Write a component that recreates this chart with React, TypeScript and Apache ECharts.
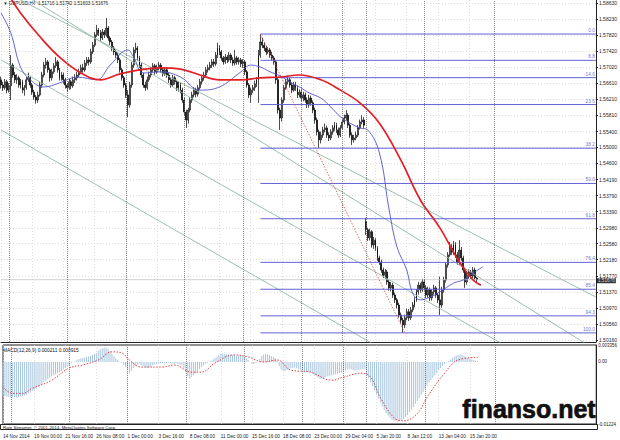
import React, { useEffect, useRef } from "react";
import * as echarts from "echarts";

// [open, high, low, close] per H4 bar
const candles: number[][] = [
  [1.5670,1.5678,1.5648,1.5657],[1.5657,1.5665,1.5642,1.5650],[1.5650,1.5672,1.5645,1.5665],[1.5665,1.5670,1.5636,1.5644],
  [1.5644,1.5662,1.5638,1.5655],[1.5655,1.5732,1.5619,1.5707],[1.5707,1.5712,1.5675,1.5682],[1.5682,1.5690,1.5662,1.5670],
  [1.5670,1.5684,1.5660,1.5675],[1.5675,1.5680,1.5650,1.5657],[1.5657,1.5672,1.5648,1.5665],[1.5665,1.5670,1.5636,1.5644],
  [1.5644,1.5657,1.5630,1.5650],[1.5650,1.5677,1.5645,1.5670],[1.5670,1.5688,1.5665,1.5675],[1.5675,1.5680,1.5650,1.5657],
  [1.5657,1.5662,1.5632,1.5639],[1.5639,1.5645,1.5620,1.5627],[1.5627,1.5632,1.5610,1.5619],[1.5619,1.5640,1.5612,1.5632],
  [1.5632,1.5665,1.5628,1.5657],[1.5657,1.5690,1.5650,1.5682],[1.5682,1.5715,1.5676,1.5707],[1.5707,1.5725,1.5698,1.5715],
  [1.5715,1.5720,1.5688,1.5695],[1.5695,1.5700,1.5665,1.5675],[1.5675,1.5698,1.5668,1.5690],[1.5690,1.5712,1.5685,1.5705],
  [1.5705,1.5727,1.5700,1.5715],[1.5715,1.5720,1.5688,1.5695],[1.5695,1.5700,1.5668,1.5675],[1.5675,1.5690,1.5668,1.5682],
  [1.5682,1.5688,1.5660,1.5670],[1.5670,1.5675,1.5648,1.5657],[1.5657,1.5662,1.5640,1.5650],[1.5650,1.5672,1.5645,1.5665],
  [1.5665,1.5670,1.5646,1.5655],[1.5655,1.5678,1.5650,1.5670],[1.5670,1.5684,1.5662,1.5675],[1.5675,1.5690,1.5668,1.5682],
  [1.5682,1.5698,1.5676,1.5690],[1.5690,1.5708,1.5684,1.5700],[1.5700,1.5710,1.5688,1.5695],[1.5695,1.5720,1.5690,1.5712],
  [1.5712,1.5727,1.5705,1.5720],[1.5720,1.5727,1.5706,1.5715],[1.5715,1.5748,1.5710,1.5740],[1.5740,1.5765,1.5735,1.5757],
  [1.5757,1.5790,1.5752,1.5783],[1.5783,1.5808,1.5778,1.5795],[1.5795,1.5800,1.5780,1.5788],[1.5788,1.5795,1.5768,1.5775],
  [1.5775,1.5798,1.5770,1.5790],[1.5790,1.5795,1.5775,1.5783],[1.5783,1.5825,1.5778,1.5800],[1.5800,1.5805,1.5768,1.5775],
  [1.5775,1.5780,1.5757,1.5765],[1.5765,1.5770,1.5742,1.5750],[1.5750,1.5755,1.5732,1.5740],[1.5740,1.5745,1.5725,1.5732],
  [1.5732,1.5737,1.5712,1.5720],[1.5720,1.5725,1.5688,1.5695],[1.5695,1.5700,1.5668,1.5675],[1.5675,1.5680,1.5650,1.5657],
  [1.5657,1.5662,1.5624,1.5632],[1.5632,1.5644,1.5576,1.5607],[1.5607,1.5665,1.5600,1.5657],[1.5657,1.5715,1.5650,1.5707],
  [1.5707,1.5752,1.5700,1.5745],[1.5745,1.5763,1.5737,1.5750],[1.5750,1.5755,1.5718,1.5725],[1.5725,1.5730,1.5700,1.5707],
  [1.5707,1.5712,1.5675,1.5682],[1.5682,1.5688,1.5650,1.5657],[1.5657,1.5665,1.5642,1.5650],[1.5650,1.5678,1.5645,1.5670],
  [1.5670,1.5690,1.5665,1.5682],[1.5682,1.5702,1.5676,1.5695],[1.5695,1.5712,1.5690,1.5705],[1.5705,1.5710,1.5683,1.5690],
  [1.5690,1.5708,1.5685,1.5700],[1.5700,1.5715,1.5694,1.5707],[1.5707,1.5712,1.5688,1.5695],[1.5695,1.5700,1.5678,1.5685],
  [1.5685,1.5702,1.5680,1.5695],[1.5695,1.5700,1.5675,1.5682],[1.5682,1.5688,1.5662,1.5670],[1.5670,1.5675,1.5650,1.5657],
  [1.5657,1.5682,1.5652,1.5675],[1.5675,1.5680,1.5658,1.5665],[1.5665,1.5670,1.5642,1.5650],[1.5650,1.5665,1.5640,1.5657],
  [1.5657,1.5662,1.5636,1.5644],[1.5644,1.5650,1.5612,1.5619],[1.5619,1.5625,1.5580,1.5589],[1.5589,1.5595,1.5549,1.5569],
  [1.5569,1.5600,1.5560,1.5594],[1.5594,1.5626,1.5588,1.5619],[1.5619,1.5640,1.5612,1.5632],[1.5632,1.5652,1.5626,1.5644],
  [1.5644,1.5650,1.5626,1.5634],[1.5634,1.5657,1.5628,1.5650],[1.5650,1.5672,1.5645,1.5665],[1.5665,1.5682,1.5658,1.5675],
  [1.5675,1.5690,1.5668,1.5682],[1.5682,1.5702,1.5676,1.5695],[1.5695,1.5708,1.5688,1.5700],[1.5700,1.5715,1.5694,1.5707],
  [1.5707,1.5722,1.5700,1.5715],[1.5715,1.5722,1.5702,1.5710],[1.5710,1.5740,1.5705,1.5732],[1.5732,1.5763,1.5725,1.5750],
  [1.5750,1.5757,1.5732,1.5740],[1.5740,1.5745,1.5718,1.5725],[1.5725,1.5730,1.5708,1.5715],[1.5715,1.5735,1.5710,1.5727],
  [1.5727,1.5732,1.5712,1.5720],[1.5720,1.5740,1.5715,1.5732],[1.5732,1.5737,1.5712,1.5720],[1.5720,1.5727,1.5705,1.5712],
  [1.5712,1.5745,1.5706,1.5725],[1.5725,1.5730,1.5708,1.5715],[1.5715,1.5727,1.5708,1.5720],[1.5720,1.5725,1.5702,1.5710],
  [1.5710,1.5722,1.5700,1.5715],[1.5715,1.5720,1.5682,1.5690],[1.5690,1.5695,1.5650,1.5657],[1.5657,1.5662,1.5624,1.5632],
  [1.5632,1.5650,1.5612,1.5644],[1.5644,1.5657,1.5636,1.5650],[1.5650,1.5668,1.5642,1.5660],[1.5660,1.5677,1.5652,1.5670],
  [1.5670,1.5745,1.5612,1.5732],[1.5732,1.5785,1.5725,1.5765],[1.5765,1.5775,1.5750,1.5757],[1.5757,1.5765,1.5742,1.5750],
  [1.5750,1.5755,1.5732,1.5740],[1.5740,1.5752,1.5735,1.5745],[1.5745,1.5750,1.5725,1.5732],[1.5732,1.5740,1.5718,1.5725],
  [1.5725,1.5730,1.5708,1.5715],[1.5715,1.5720,1.5660,1.5670],[1.5670,1.5675,1.5585,1.5594],[1.5594,1.5600,1.5544,1.5574],
  [1.5574,1.5626,1.5565,1.5619],[1.5619,1.5657,1.5612,1.5650],[1.5650,1.5672,1.5645,1.5665],[1.5665,1.5680,1.5658,1.5670],
  [1.5670,1.5675,1.5650,1.5657],[1.5657,1.5662,1.5636,1.5644],[1.5644,1.5665,1.5640,1.5657],[1.5657,1.5665,1.5642,1.5650],
  [1.5650,1.5655,1.5624,1.5632],[1.5632,1.5646,1.5626,1.5639],[1.5639,1.5645,1.5616,1.5624],[1.5624,1.5640,1.5616,1.5632],
  [1.5632,1.5638,1.5612,1.5619],[1.5619,1.5626,1.5599,1.5607],[1.5607,1.5632,1.5600,1.5624],[1.5624,1.5630,1.5605,1.5612],
  [1.5612,1.5618,1.5586,1.5594],[1.5594,1.5600,1.5560,1.5569],[1.5569,1.5575,1.5530,1.5539],[1.5539,1.5545,1.5499,1.5519],
  [1.5519,1.5540,1.5510,1.5531],[1.5531,1.5552,1.5524,1.5544],[1.5544,1.5560,1.5538,1.5549],[1.5549,1.5555,1.5524,1.5531],
  [1.5531,1.5538,1.5516,1.5524],[1.5524,1.5546,1.5518,1.5539],[1.5539,1.5556,1.5532,1.5549],[1.5549,1.5564,1.5542,1.5556],
  [1.5556,1.5562,1.5536,1.5544],[1.5544,1.5550,1.5524,1.5531],[1.5531,1.5556,1.5526,1.5549],[1.5549,1.5570,1.5545,1.5564],
  [1.5564,1.5582,1.5558,1.5574],[1.5574,1.5594,1.5568,1.5581],[1.5581,1.5586,1.5549,1.5556],[1.5556,1.5560,1.5524,1.5531],
  [1.5531,1.5538,1.5506,1.5519],[1.5519,1.5532,1.5512,1.5524],[1.5524,1.5540,1.5518,1.5531],[1.5531,1.5556,1.5526,1.5549],
  [1.5549,1.5570,1.5545,1.5564],[1.5564,1.5581,1.5558,1.5569],[1.5569,1.5576,1.5549,1.5556],[1.5313,1.5323,1.5280,1.5293],
  [1.5293,1.5298,1.5265,1.5273],[1.5273,1.5296,1.5266,1.5288],[1.5288,1.5292,1.5248,1.5255],[1.5255,1.5275,1.5245,1.5267],
  [1.5267,1.5272,1.5240,1.5247],[1.5247,1.5252,1.5215,1.5222],[1.5222,1.5228,1.5205,1.5212],[1.5212,1.5218,1.5185,1.5192],
  [1.5192,1.5198,1.5172,1.5179],[1.5179,1.5194,1.5170,1.5187],[1.5187,1.5192,1.5155,1.5162],[1.5162,1.5168,1.5140,1.5147],
  [1.5147,1.5162,1.5138,1.5154],[1.5154,1.5160,1.5122,1.5129],[1.5129,1.5135,1.5109,1.5117],[1.5117,1.5122,1.5095,1.5104],
  [1.5104,1.5110,1.5072,1.5079],[1.5079,1.5085,1.5058,1.5066],[1.5066,1.5072,1.5034,1.5054],[1.5054,1.5080,1.5046,1.5072],
  [1.5072,1.5095,1.5066,1.5087],[1.5087,1.5094,1.5064,1.5072],[1.5072,1.5099,1.5066,1.5092],[1.5092,1.5112,1.5086,1.5104],
  [1.5104,1.5124,1.5098,1.5117],[1.5117,1.5144,1.5112,1.5137],[1.5137,1.5162,1.5130,1.5154],[1.5154,1.5160,1.5135,1.5142],
  [1.5142,1.5170,1.5137,1.5162],[1.5162,1.5168,1.5140,1.5147],[1.5147,1.5154,1.5122,1.5129],[1.5129,1.5150,1.5122,1.5142],
  [1.5142,1.5148,1.5114,1.5122],[1.5122,1.5144,1.5115,1.5137],[1.5137,1.5155,1.5130,1.5147],[1.5147,1.5152,1.5122,1.5129],
  [1.5129,1.5135,1.5109,1.5117],[1.5117,1.5175,1.5079,1.5104],[1.5104,1.5150,1.5097,1.5142],[1.5142,1.5175,1.5135,1.5167],
  [1.5167,1.5212,1.5160,1.5205],[1.5205,1.5237,1.5198,1.5230],[1.5230,1.5262,1.5225,1.5247],[1.5247,1.5257,1.5230,1.5237],
  [1.5237,1.5265,1.5230,1.5255],[1.5255,1.5262,1.5222,1.5230],[1.5230,1.5237,1.5205,1.5212],[1.5212,1.5267,1.5205,1.5242],
  [1.5242,1.5250,1.5215,1.5222],[1.5222,1.5228,1.5185,1.5192],[1.5192,1.5198,1.5147,1.5162],[1.5162,1.5186,1.5155,1.5179],
  [1.5179,1.5194,1.5170,1.5187],[1.5187,1.5192,1.5170,1.5177],[1.5177,1.5199,1.5172,1.5192],[1.5192,1.5198,1.5165,1.5172],
  [1.51716,1.51742,1.51603,1.51676],
];

// Moving averages read at sparse bars: [bar index, price]
const redMA: number[][] = [
  [4,1.5883],[10,1.5838],[20,1.5778],[30,1.5727],[41,1.5687],[51,1.5670],[61,1.5685],[71,1.5695],[82,1.5700],
  [92,1.5697],[102,1.5682],[112,1.5670],[123,1.5670],[133,1.5675],[143,1.5677],[153,1.5682],[164,1.5670],
  [174,1.5644],[184,1.5612],[194,1.5561],[205,1.5468],[215,1.5368],[225,1.5298],[235,1.5212],[242,1.5167],[246,1.5154],
];
const blueMA: number[][] = [
  [0,1.5838],[5,1.5788],[10,1.5702],[15,1.5670],[22,1.5652],[30,1.5662],[39,1.5677],[49,1.5670],[56,1.5707],
  [65,1.5745],[68,1.5727],[73,1.5687],[82,1.5690],[92,1.5677],[102,1.5644],[112,1.5652],[123,1.5690],[128,1.5707],
  [133,1.5702],[138,1.5690],[143,1.5680],[148,1.5665],[153,1.5652],[158,1.5637],[164,1.5624],[169,1.5602],
  [174,1.5577],[179,1.5561],[184,1.5549],[188,1.5544],[194,1.5486],[199,1.5343],[203,1.5250],[208,1.5192],
  [211,1.5134],[215,1.5117],[220,1.5124],[225,1.5137],[232,1.5159],[237,1.5167],[242,1.5184],[247,1.5200],
];

// MACD(12,26,9) main values per bar (histogram) and dotted signal line
const macdMain: number[] = [
  -0.0066,-0.0067,-0.0068,-0.0069,-0.0070,-0.0070,-0.0070,-0.0070,-0.0069,-0.0068,-0.0067,-0.0066,-0.0065,
  -0.0062,-0.0060,-0.0057,-0.0055,-0.0052,-0.0049,-0.0046,-0.0043,-0.0040,-0.0037,-0.0034,-0.0031,-0.0028,-0.0026,-0.0024,-0.0022,-0.0020,-0.0018,
  -0.0015,-0.0012,-0.0009,-0.0006,-0.0003,
  0.0000,0.0002,0.0004,0.0006,0.0007,0.0008,0.0009,0.0010,0.0011,0.0012,0.0014,0.0016,0.0018,
  0.0022,0.0025,0.0027,0.0028,0.0028,0.0026,0.0022,
  0.0017,0.0012,0.0008,0.0004,0.0001,-0.0002,-0.0006,-0.0010,
  -0.0016,-0.0022,-0.0018,
  -0.0012,-0.0008,-0.0005,-0.0004,-0.0006,-0.0008,-0.0010,-0.0012,-0.0011,-0.0009,
  -0.0007,-0.0005,-0.0004,-0.0003,-0.0002,-0.0002,-0.0003,-0.0002,-0.0001,-0.0002,-0.0003,-0.0004,-0.0003,-0.0004,-0.0005,-0.0006,
  -0.0012,-0.0020,-0.0028,-0.0032,-0.0030,
  -0.0026,-0.0022,-0.0018,-0.0014,-0.0010,-0.0007,-0.0004,-0.0002,0.0000,0.0002,
  0.0005,0.0008,0.0011,0.0014,0.0016,0.0017,0.0017,0.0016,0.0015,0.0015,0.0014,0.0014,0.0013,0.0013,0.0012,0.0012,0.0010,0.0008,0.0004,0.0000,
  -0.0003,-0.0004,-0.0002,0.0000,0.0006,0.0012,0.0015,0.0016,
  0.0015,0.0014,0.0012,0.0010,0.0008,0.0002,-0.0008,-0.0015,
  -0.0018,-0.0018,-0.0016,-0.0014,-0.0012,-0.0012,-0.0011,-0.0012,-0.0014,-0.0016,
  -0.0017,-0.0018,-0.0019,-0.0020,-0.0020,
  -0.0022,-0.0025,-0.0028,-0.0031,-0.0033,-0.0033,-0.0032,-0.0030,
  -0.0028,-0.0027,-0.0026,-0.0025,-0.0024,-0.0023,-0.0022,-0.0021,-0.0019,-0.0017,
  -0.0015,-0.0014,-0.0015,-0.0016,-0.0017,-0.0017,-0.0016,-0.0015,-0.0014,-0.0014,
  -0.0025,-0.0032,-0.0040,-0.0048,-0.0056,-0.0064,-0.0072,-0.0080,
  -0.0088,-0.0095,-0.0101,-0.0106,-0.0110,-0.0114,-0.0116,-0.0117,
  -0.0118,-0.0117,-0.0115,-0.0112,-0.0108,-0.0104,-0.0099,
  -0.0094,-0.0089,-0.0083,-0.0077,-0.0071,-0.0065,-0.0059,-0.0053,
  -0.0047,-0.0041,-0.0036,-0.0031,-0.0026,-0.0021,-0.0016,-0.0012,
  -0.0008,-0.0004,-0.0001,0.0002,0.0005,0.0008,0.0011,0.0013,0.0014,0.0015,
  0.0014,0.0012,0.0010,0.0008,0.0007,0.0005,0.0004,0.0003,0.000211,
];
const macdSignal: number[][] = [
  [0,-0.0050],[5,-0.0062],[10,-0.0062],[15,-0.0052],[25,-0.0036],[34,-0.0012],[41,-0.0006],[49,0.0004],
  [56,0.0020],[61,0.0018],[65,0.0004],[71,-0.0010],[82,-0.0010],[88,-0.0006],[97,-0.0020],[102,-0.0020],
  [109,-0.0002],[119,0.0014],[126,0.0010],[134,0.0000],[141,0.0004],[148,-0.0016],[158,-0.0020],[169,-0.0036],
  [175,-0.0030],[184,-0.0022],[189,-0.0030],[194,-0.0070],[201,-0.0110],[206,-0.0116],[213,-0.0102],
  [218,-0.0070],[227,-0.0022],[234,0.0004],[244,0.000915],
];

// Fibonacci retracement (0.0 at the Dec high, 100.0 at the Jan low)
const fibHigh = 1.5785;
const fibLow = 1.5034;
const fibStartBar = 133;
const fibEndBar = 207;
const fibLevels = [0, 8.8, 14.6, 23.6, 38.2, 50, 61.8, 76.4, 85.4, 94.3, 100];
const fibLabels = ["0.0", "8.8", "14.6", "23.6", "38.2", "50.0", "61.8", "76.4", "85.4", "94.3", "100.0"];

// Parallel channel lines: [[startBar, price], [endBar, price]]
const channelLines: number[][][] = [
  [[0, 1.5896], [305, 1.5124]],
  [[0, 1.5921], [305, 1.4991]],
  [[0, 1.5720], [305, 1.4873]],
  [[0, 1.5544], [305, 1.4684]],
];

const periodSeparators = [4, 34, 64, 94, 124, 154, 175, 187, 217, 253];
const priceTickLabels = [
  "1.50160","1.50560","1.50970","1.51370","1.51770","1.52180","1.52580","1.52980","1.53390","1.53790","1.54190",
  "1.54600","1.55000","1.55400","1.55810","1.56210","1.56610","1.57020","1.57420","1.57820","1.58230","1.58630",
];
const timeLabelBars = [0, 16, 32, 48, 64, 80, 96, 112, 128, 144, 160, 176, 192, 208, 224, 240];
const timeLabelTexts = [
  "14 Nov 2014","19 Nov 00:00","21 Nov 16:00","26 Nov 08:00","1 Dec 00:00","3 Dec 16:00","8 Dec 08:00","11 Dec 00:00",
  "15 Dec 16:00","18 Dec 08:00","23 Dec 00:00","29 Dec 04:00","5 Jan 20:00","8 Jan 12:00","13 Jan 04:00","15 Jan 20:00",
];
const macdTickValues = [0.003356, 0, -0.01224];
const macdTickLabels = ["0.003356", "0.00", "-0.01224"];
const lastPrice = 1.51676;
const headerText = "▼ GBPUSD,H4  1.51716 1.51742 1.51603 1.51676";
const macdTitle = "MACD(12,26,9) 0.000211 0.000915";
const copyrightText = "Rate Streamer, © 2001-2014, MetaQuotes Software Corp.";
const watermark = "finanso.net";
const slotCount = 306;

const FONT = "'Liberation Sans', Arial, sans-serif";
const FIB_BLUE = "#6262d8";

export default function App() {
  const ref = useRef<HTMLDivElement>(null);
  useEffect(() => {
    if (!ref.current) return;
    document.body.style.margin = "0";
    const chart = echarts.init(ref.current, undefined, { renderer: "svg" });
    const cats = Array.from({ length: slotCount }, (_, i) => String(i));
    const labelSet = new Set(timeLabelBars);
    const showLabel = (idx: number) => labelSet.has(idx);
    const priceTickValues = priceTickLabels.map(Number);
    const fibPrices = fibLevels.map((l) => fibHigh - ((fibHigh - fibLow) * l) / 100);
    const gridSplit = { show: true, lineStyle: { color: "#d4d4d4", type: [1, 2] as any, width: 0.8 } };
    const nearest = (vals: number[], labels: string[], v: number) => {
      let best = 0;
      vals.forEach((t, k) => { if (Math.abs(t - v) < Math.abs(vals[best] - v)) best = k; });
      return labels[best];
    };
    const separatorLines = {
      silent: true, symbol: "none", animation: false,
      data: periodSeparators.map((b) => ({
        xAxis: b, lineStyle: { color: "#666", type: [1, 1], width: 0.8 }, label: { show: false },
      })),
    };

    const option: any = {
      animation: false,
      backgroundColor: "#ffffff",
      textStyle: { fontFamily: FONT },
      grid: [
        { left: 1, right: 22, top: 0, height: 342, show: false },
        { left: 1, right: 22, top: 345, height: 79, show: true, borderColor: "#222", borderWidth: 1, backgroundColor: "#fff" },
      ],
      xAxis: [
        {
          type: "category", gridIndex: 0, data: cats, boundaryGap: false,
          axisLine: { show: true, lineStyle: { color: "#222", width: 1 } },
          axisTick: { show: false }, axisLabel: { show: false },
          splitLine: { ...gridSplit, interval: (i: number) => showLabel(i) },
        },
        {
          type: "category", gridIndex: 1, data: cats, boundaryGap: false,
          axisLine: { show: false }, axisTick: { show: false },
          axisLabel: {
            show: true, interval: (i: number) => showLabel(i), align: "left", fontSize: 4.7, color: "#222", margin: 10,
            formatter: (v: string) => timeLabelTexts[timeLabelBars.indexOf(Number(v))] ?? "",
          },
          splitLine: { ...gridSplit, interval: (i: number) => showLabel(i) },
        },
      ],
      yAxis: [
        {
          type: "value", gridIndex: 0, position: "right", min: 1.50111, max: 1.58705,
          axisLine: { show: true, lineStyle: { color: "#222", width: 1 } },
          axisTick: { show: true, length: 2, customValues: priceTickValues, lineStyle: { color: "#222" } },
          axisLabel: {
            customValues: priceTickValues, fontSize: 5, color: "#222", margin: 3,
            formatter: (v: number) => nearest(priceTickValues, priceTickLabels, v),
          },
          splitLine: gridSplit,
        },
        {
          type: "value", gridIndex: 1, position: "right", min: -0.01224, max: 0.003356,
          axisLine: { show: true, lineStyle: { color: "#222" } },
          axisTick: { show: false, customValues: macdTickValues },
          axisLabel: {
            customValues: macdTickValues, fontSize: 4.5, color: "#222", margin: 2, padding: [3, 0, 0, 0],
            formatter: (v: number) => nearest(macdTickValues, macdTickLabels, v),
          },
          splitLine: { show: false },
        },
      ],
      series: [
        ...channelLines.map((seg) => ({
          type: "line", xAxisIndex: 0, yAxisIndex: 0, data: seg, showSymbol: false, silent: true, clip: true,
          lineStyle: { color: "#93b8a4", width: 0.9 },
        })),
        // bid (last price) line
        {
          type: "line", xAxisIndex: 0, yAxisIndex: 0, data: [[0, lastPrice], [slotCount - 1, lastPrice]],
          showSymbol: false, silent: true, lineStyle: { color: "#c4c4c4", width: 0.8 },
        },
        ...fibPrices.map((p) => ({
          type: "line", xAxisIndex: 0, yAxisIndex: 0, data: [[fibStartBar, p], [slotCount - 1, p]],
          showSymbol: false, silent: true, lineStyle: { color: FIB_BLUE, width: 1 },
        })),
        {
          type: "scatter", xAxisIndex: 0, yAxisIndex: 0, symbolSize: 0, silent: true,
          data: fibPrices.map((p, k) => ({ value: [slotCount - 1, p], name: fibLabels[k] })),
          label: {
            show: true, position: "insideBottomRight", distance: 1, color: "#4a4ac8", fontSize: 4.8,
            formatter: (prm: any) => prm.name,
          },
        },
        {
          type: "line", xAxisIndex: 0, yAxisIndex: 0, data: [[fibStartBar, fibHigh], [fibEndBar, fibLow]],
          showSymbol: false, silent: true, lineStyle: { color: "#d84848", width: 0.8, type: [1.5, 1.5] },
        },
        {
          type: "candlestick", xAxisIndex: 0, yAxisIndex: 0, barWidth: 1.4, silent: true,
          data: candles.map(([o, h, l, c]) => [o, c, l, h]),
          itemStyle: { color: "#ffffff", color0: "#000000", borderColor: "#000000", borderColor0: "#000000", borderWidth: 0.7 },
          markLine: separatorLines,
        },
        {
          type: "line", xAxisIndex: 0, yAxisIndex: 0, data: blueMA, smooth: 0.4, showSymbol: false, silent: true,
          lineStyle: { color: "#5454cc", width: 0.9 },
        },
        {
          type: "line", xAxisIndex: 0, yAxisIndex: 0, data: redMA, smooth: 0.4, showSymbol: false, silent: true,
          lineStyle: { color: "#e31e24", width: 1.7 },
        },
        // price tag on the axis at the last price
        {
          type: "scatter", xAxisIndex: 0, yAxisIndex: 0, symbolSize: 0, silent: true, z: 20,
          data: [[slotCount - 1, lastPrice]],
          label: {
            show: true, position: "right", distance: 1, offset: [0, 1], formatter: lastPrice.toFixed(5),
            backgroundColor: "#000", color: "#fff", fontSize: 4.7, padding: [0, 1, 0, 1],
          },
        },
        {
          type: "bar", xAxisIndex: 1, yAxisIndex: 1, data: macdMain, barWidth: 1, silent: true,
          itemStyle: { color: "#a9c6df" },
          markLine: separatorLines,
        },
        {
          type: "line", xAxisIndex: 1, yAxisIndex: 1, data: macdSignal, smooth: 0.4, showSymbol: false, silent: true,
          lineStyle: { color: "#e03030", width: 0.9, type: [1.5, 1.5] },
        },
      ],
      graphic: [
        { type: "text", left: 3, top: 1, style: { text: headerText, fill: "#111", font: `4.6px ${FONT}` } },
        { type: "text", left: 3, top: 348, style: { text: macdTitle, fill: "#111", font: `4.8px ${FONT}` } },
        { type: "rect", shape: { x: 0.5, y: 424.5, width: 597, height: 5 }, style: { fill: "#fff", stroke: "#222", lineWidth: 1 } },
        { type: "text", left: 3, top: 425, style: { text: copyrightText, fill: "#111", font: `4.4px ${FONT}` } },
        {
          type: "text", left: 462, top: 396, z: 100,
          style: { text: watermark, fill: "#111", stroke: "#111", lineWidth: 0.7, font: `bold 25px ${FONT}` },
        },
      ],
    };
    chart.setOption(option);
    return () => chart.dispose();
  }, []);
  return <div ref={ref} style={{ width: 620, height: 440, position: "absolute", left: 0, top: 0 }} />;
}
